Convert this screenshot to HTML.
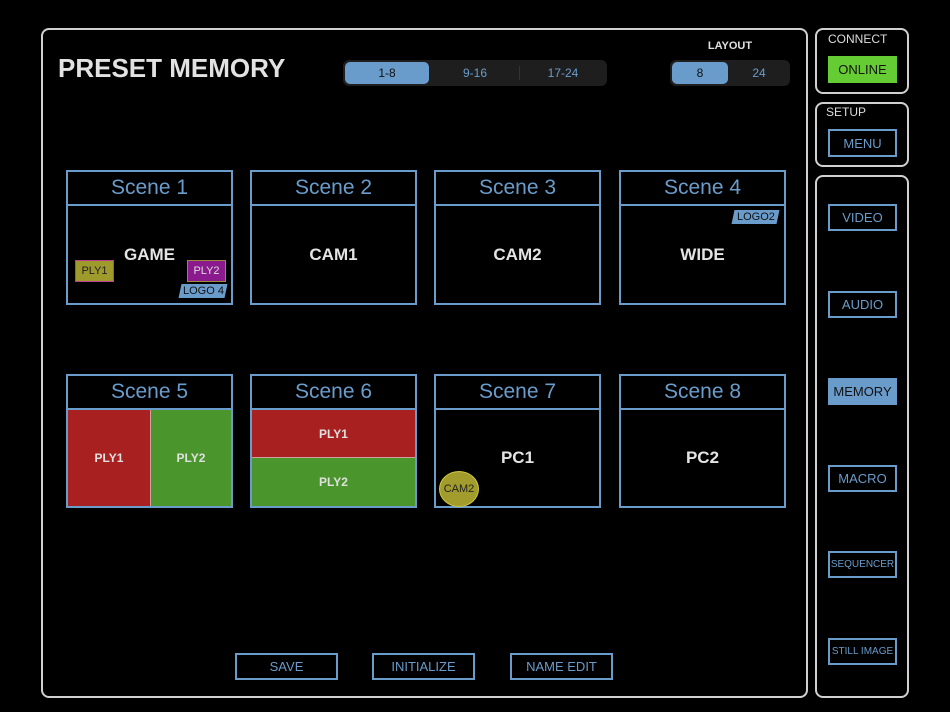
<!DOCTYPE html>
<html><head><style>
body{margin:0;width:950px;height:712px;background:#000;position:relative;overflow:hidden;font-family:"Liberation Sans",sans-serif}
div{box-sizing:border-box}
.a{position:absolute}
.panel{position:absolute;border:2px solid #d0d0d0;border-radius:8px}
.btn{position:absolute;border:2px solid #6a9ccb;color:#6a9ccb;font-size:13px;display:flex;align-items:center;justify-content:center}
.sc{position:absolute;width:167px;border:2px solid #6a9ccb}
.sh{height:34px;border-bottom:2px solid #6a9ccb;color:#6a9ccb;font-size:21px;text-align:center;line-height:32px}
.sb{position:relative;height:calc(100% - 34px)}
.lab{position:absolute;left:0;right:0;top:50%;transform:translateY(-50%);text-align:center;color:#e4e4e4;font-weight:bold;font-size:17px}
.f{position:absolute;display:flex;align-items:center;justify-content:center;color:#e0e0e0;font-weight:bold;font-size:12px}
.f span{display:inline-block;transform:skewX(12deg)}
</style></head><body>
<div class="panel" style="left:41px;top:28px;width:767px;height:670px"></div>
<div class="a" style="left:58px;top:53px;color:#e2e2e2;font-size:26px;font-weight:bold">PRESET MEMORY</div>

<div class="a" style="left:343px;top:60px;width:264px;height:26px;background:#1e1e1e;border-radius:6px"></div>
<div class="a" style="left:345px;top:62px;width:84px;height:22px;background:#6a9ccb;border-radius:5px;color:#111;font-size:12px;text-align:center;line-height:22px">1-8</div>
<div class="a" style="left:433px;top:62px;width:84px;height:22px;color:#6a9ccb;font-size:12px;text-align:center;line-height:22px">9-16</div>
<div class="a" style="left:519px;top:66px;width:1px;height:14px;background:#333"></div>
<div class="a" style="left:521px;top:62px;width:84px;height:22px;color:#6a9ccb;font-size:12px;text-align:center;line-height:22px">17-24</div>

<div class="a" style="left:670px;top:40px;width:120px;text-align:center;color:#e0e0e0;font-size:11px;font-weight:bold">LAYOUT</div>
<div class="a" style="left:670px;top:60px;width:120px;height:26px;background:#1e1e1e;border-radius:6px"></div>
<div class="a" style="left:672px;top:62px;width:56px;height:22px;background:#6a9ccb;border-radius:5px;color:#111;font-size:12px;text-align:center;line-height:22px">8</div>
<div class="a" style="left:730px;top:62px;width:58px;height:22px;color:#6a9ccb;font-size:12px;text-align:center;line-height:22px">24</div>

<div class="sc" style="left:66px;top:170px;height:135px"><div class="sh">Scene 1</div><div class="sb"><div class="lab">GAME</div>
<div class="f" style="left:7px;top:54px;width:39px;height:22px;background:#9e9a2c;border:1px solid #c04090;color:#222;font-weight:normal;font-size:11px">PLY1</div>
<div class="f" style="left:119px;top:54px;width:39px;height:22px;background:#8a1a8e;border:1px solid #9a8a3c;color:#ddd;font-weight:normal;font-size:11px">PLY2</div>
<div class="f" style="left:112px;top:78px;width:46px;height:14px;background:#6a9ccb;color:#111;font-weight:normal;font-size:11px;transform:skewX(-12deg)"><span>LOGO 4</span></div>
</div></div>
<div class="sc" style="left:250px;top:170px;height:135px"><div class="sh">Scene 2</div><div class="sb"><div class="lab">CAM1</div></div></div>
<div class="sc" style="left:434px;top:170px;height:135px"><div class="sh">Scene 3</div><div class="sb"><div class="lab">CAM2</div></div></div>
<div class="sc" style="left:619px;top:170px;height:135px"><div class="sh">Scene 4</div><div class="sb"><div class="lab">WIDE</div>
<div class="f" style="left:112px;top:4px;width:45px;height:14px;background:#6a9ccb;color:#111;font-weight:normal;font-size:11px;transform:skewX(-12deg)"><span>LOGO2</span></div></div></div>

<div class="sc" style="left:66px;top:374px;height:134px"><div class="sh">Scene 5</div><div class="sb">
<div class="f" style="left:0;top:0;width:83px;height:100%;background:#a82020;border-right:1px solid #d0a0a0">PLY1</div>
<div class="f" style="left:83px;top:0;width:80px;height:100%;background:#4a962c">PLY2</div></div></div>
<div class="sc" style="left:250px;top:374px;height:134px"><div class="sh">Scene 6</div><div class="sb">
<div class="f" style="left:0;top:0;width:100%;height:50%;background:#a82020;border-bottom:1px solid #d0a0a0">PLY1</div>
<div class="f" style="left:0;top:50%;width:100%;height:50%;background:#4a962c">PLY2</div></div></div>
<div class="sc" style="left:434px;top:374px;height:134px"><div class="sh">Scene 7</div><div class="sb"><div class="lab">PC1</div>
<div class="f" style="left:3px;top:61px;width:40px;height:36px;border-radius:50%;background:#a29c2c;border:1px solid #d0c840;color:#222;font-weight:normal;font-size:11px">CAM2</div></div></div>
<div class="sc" style="left:619px;top:374px;height:134px"><div class="sh">Scene 8</div><div class="sb"><div class="lab">PC2</div></div></div>

<div class="btn" style="left:235px;top:653px;width:103px;height:27px">SAVE</div>
<div class="btn" style="left:372px;top:653px;width:103px;height:27px">INITIALIZE</div>
<div class="btn" style="left:510px;top:653px;width:103px;height:27px">NAME EDIT</div>

<div class="panel" style="left:815px;top:28px;width:94px;height:66px"></div>
<div class="a" style="left:828px;top:32px;color:#ddd;font-size:12px">CONNECT</div>
<div class="a" style="left:828px;top:56px;width:69px;height:27px;background:#66cc33;color:#111;font-size:13px;text-align:center;line-height:27px">ONLINE</div>
<div class="panel" style="left:815px;top:102px;width:94px;height:65px"></div>
<div class="a" style="left:826px;top:105px;color:#ddd;font-size:12px">SETUP</div>
<div class="btn" style="left:828px;top:129px;width:69px;height:28px">MENU</div>
<div class="panel" style="left:815px;top:175px;width:94px;height:523px"></div>
<div class="btn" style="left:828px;top:204px;width:69px;height:27px">VIDEO</div>
<div class="btn" style="left:828px;top:291px;width:69px;height:27px">AUDIO</div>
<div class="btn" style="left:828px;top:378px;width:69px;height:27px;background:#6a9ccb;color:#111">MEMORY</div>
<div class="btn" style="left:828px;top:465px;width:69px;height:27px">MACRO</div>
<div class="btn" style="left:828px;top:551px;width:69px;height:27px;font-size:10px">SEQUENCER</div>
<div class="btn" style="left:828px;top:638px;width:69px;height:27px;font-size:10px">STILL IMAGE</div>
</body></html>
